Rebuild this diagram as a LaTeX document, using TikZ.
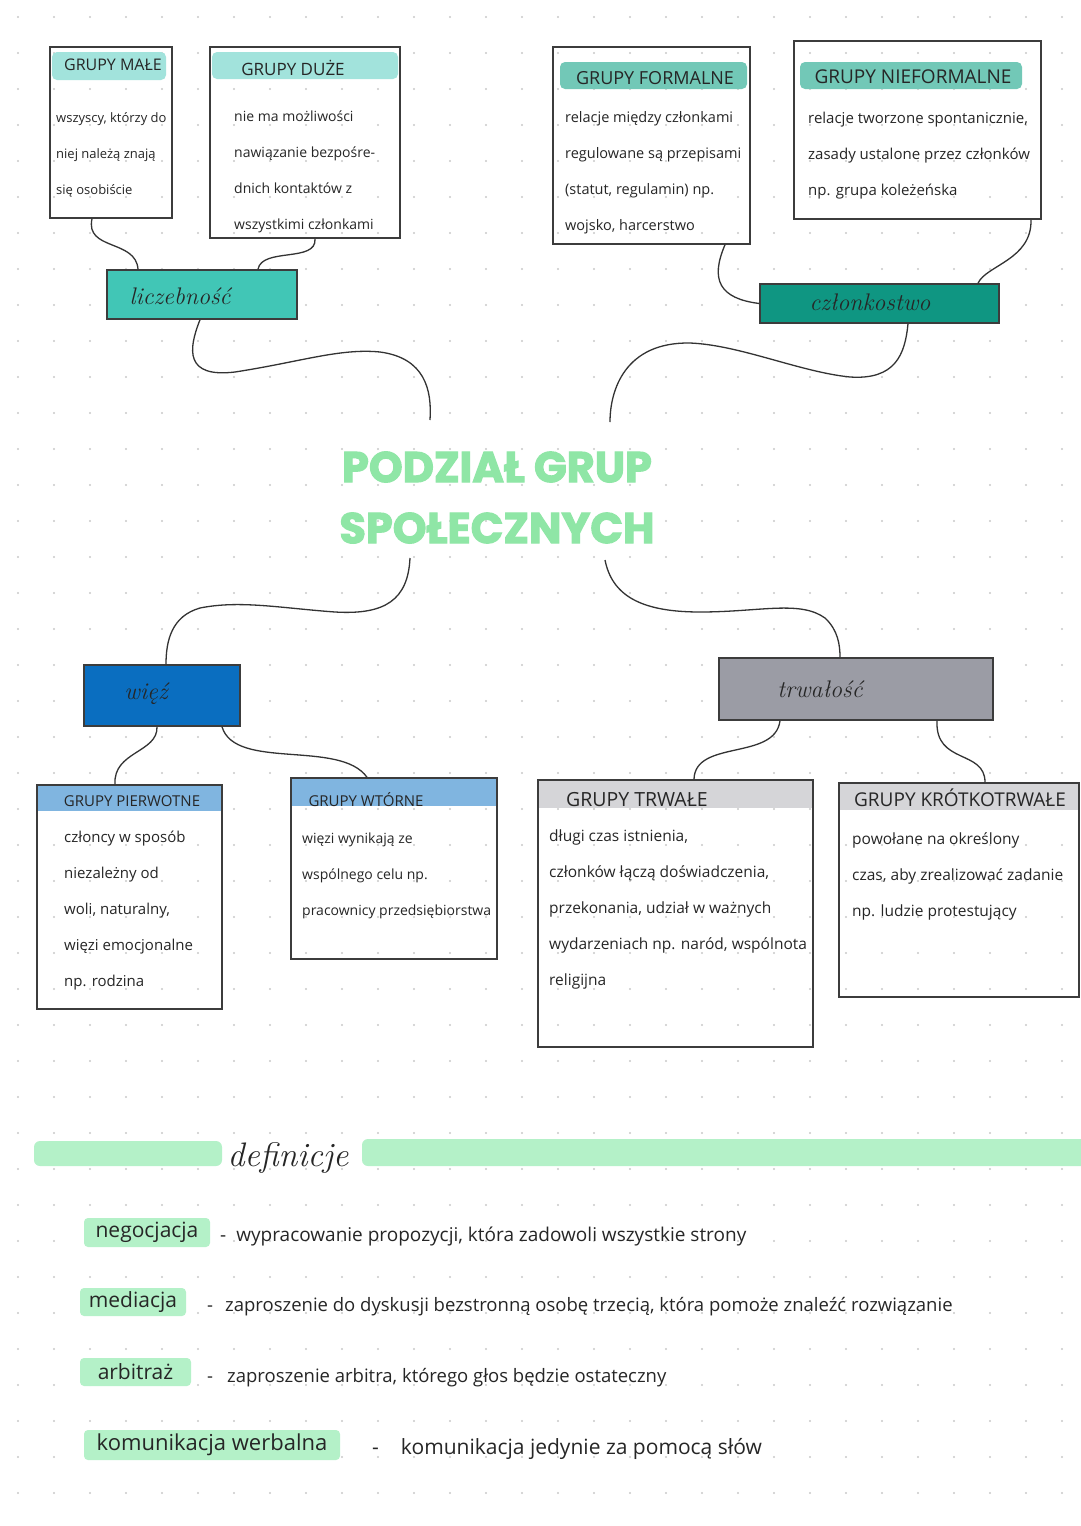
\documentclass[tikz,border=0pt]{standalone}
\usepackage{fontspec}
\newfontfamily\hand{Open Sans}
\newfontfamily\titlef[BoldFeatures={FakeBold=2.5}]{Poppins}
\usetikzlibrary{calc}
\definecolor{dotc}{HTML}{C9C9C9}
\definecolor{boxline}{HTML}{3C3C3C}
\definecolor{linec}{HTML}{333333}
\definecolor{hdrlight}{HTML}{A2E3DC}
\definecolor{hdrmid}{HTML}{72C8B7}
\definecolor{liczc}{HTML}{41C6B6}
\definecolor{czlonc}{HTML}{0F9682}
\definecolor{wiezc}{HTML}{0A6EC0}
\definecolor{trwc}{HTML}{9B9CA5}
\definecolor{hdrblue}{HTML}{80B5E0}
\definecolor{hdrgray}{HTML}{D5D5D8}
\definecolor{defgreen}{HTML}{B4F1C8}
\definecolor{titlegreen}{HTML}{8FE6A6}
\definecolor{ink}{HTML}{262626}
\tikzset{
  box/.style={draw=boxline, line width=1.5pt, inner sep=0pt},
  band/.style={inner sep=0pt},
  hdr/.style={inner sep=0pt, text=ink, font=\hand\fontsize{#1}{#1}\selectfont},
  body/.style={anchor=north west, inner sep=0pt, align=left, text=ink, font=\hand\fontsize{#1}{36}\selectfont},
  catlabel/.style={inner sep=0pt, text=ink, font=\itshape\fontsize{24}{26}\selectfont},
  link/.style={draw=linec, line width=1.3pt},
  term/.style={fill=defgreen, rounded corners=4pt, inner sep=0pt, text=ink, font=\hand\fontsize{#1}{#1}\selectfont},
  deftext/.style={anchor=west, inner sep=0pt, text=ink, font=\hand\fontsize{#1}{#1}\selectfont},
  titletext/.style={inner sep=0pt, text=titlegreen, font=\titlef\bfseries\fontsize{43}{46}\selectfont},
}
\begin{document}
\begin{tikzpicture}[x=1pt, y=-1pt]
\fill[white] (0,0) rectangle (1080,1526);
\useasboundingbox (0,0) rectangle (1080,1526);
% dot grid
\foreach \i in {0,...,29}{
  \foreach \j in {0,...,42}{
    \fill[dotc] (18+36*\i, 17+36*\j) circle (1.1);
  }
}
% ---------- top-left ----------
\node[band, fill=hdrlight, rounded corners=5pt, minimum width=114pt, minimum height=28pt] (maleband) at (109,66) {};
\node[band, fill=hdrlight, rounded corners=5pt, minimum width=186pt, minimum height=27pt] (duzeband) at (305,65.5) {};
\node[box, minimum width=122pt, minimum height=171pt] (male) at (111,132.5) {};
\node[box, minimum width=190pt, minimum height=191pt] (duze) at (305,142.5) {};
\node[hdr=16] (maleh) at (113,65) {GRUPY MAŁE};
\node[hdr=17] (duzeh) at (293,68) {GRUPY DUŻE};
\node[body=13] (maleb) at (56,112) {wszyscy, którzy do\\niej należą znają\\się osobiście};
\node[body=14] (duzeb) at (234,111) {nie ma możliwości\\nawiązanie bezpośre-\\dnich kontaktów z\\wszystkimi członkami};
\node[box, fill=liczc, minimum width=190pt, minimum height=49pt] (licz) at (202,294.5) {};
\node[catlabel] (liczl) at (180,296) {liczebność};
% ---------- top-right ----------
\node[band, fill=hdrmid, rounded corners=5pt, minimum width=187pt, minimum height=27pt] (formband) at (653.5,75.5) {};
\node[band, fill=hdrmid, rounded corners=5pt, minimum width=222pt, minimum height=27pt] (nieband) at (911,75.5) {};
\node[box, minimum width=197pt, minimum height=197pt] (form) at (651.5,145.5) {};
\node[box, minimum width=247pt, minimum height=178pt] (nief) at (917.5,130) {};
\node[hdr=18] (formh) at (655,78) {GRUPY FORMALNE};
\node[hdr=19] (niefh) at (913,77) {GRUPY NIEFORMALNE};
\node[body=14.5] (formb) at (565,111) {relacje między członkami\\regulowane są przepisami\\(statut, regulamin) np.\\wojsko, harcerstwo};
\node[body=15] (niefb) at (808,112) {relacje tworzone spontanicznie,\\zasady ustalone przez członków\\np. grupa koleżeńska};
\node[box, fill=czlonc, minimum width=239pt, minimum height=39pt] (czlon) at (879.5,303.5) {};
\node[catlabel] (czlonl) at (870,302) {członkostwo};
% ---------- title ----------
\node[titletext] (title1) at (497,467) {PODZIAŁ GRUP};
\node[titletext] (title2) at (497,528) {SPOŁECZNYCH};
\coordinate (tin1) at (430,420);
\coordinate (tin2) at (610,422);
\coordinate (tout1) at (410,558);
\coordinate (tout2) at (605,560);
% ---------- bottom-left ----------
\node[box, fill=wiezc, minimum width=156pt, minimum height=61pt] (wiez) at (162,695.5) {};
\node[catlabel] (wiezl) at (146,694) {więź};
\node[band, fill=hdrblue, minimum width=184pt, minimum height=25pt] (pierwband) at (129.5,798.5) {};
\node[band, fill=hdrblue, minimum width=205pt, minimum height=27pt] (wtorband) at (394,792.5) {};
\node[box, minimum width=185pt, minimum height=224pt] (pierw) at (129.5,897) {};
\node[box, minimum width=206pt, minimum height=181pt] (wtor) at (394,868.5) {};
\node[hdr=15] (pierwh) at (132,801) {GRUPY PIERWOTNE};
\node[hdr=15] (wtorh) at (366,800) {GRUPY WTÓRNE};
\node[body=15] (pierwb) at (64,831) {członcy w sposób\\niezależny od\\woli, naturalny,\\więzi emocjonalne\\np. rodzina};
\node[body=14] (wtorb) at (302,833) {więzi wynikają ze\\wspólnego celu np.\\pracownicy przedsiębiorstwa};
% ---------- bottom-right ----------
\node[box, fill=trwc, minimum width=274pt, minimum height=62pt] (trw) at (856,689) {};
\node[catlabel] (trwl) at (820,689) {trwałość};
\node[band, fill=hdrgray, minimum width=274pt, minimum height=27pt] (trwaleband) at (675.5,794.5) {};
\node[band, fill=hdrgray, minimum width=239pt, minimum height=26pt] (krotband) at (959,797) {};
\node[box, minimum width=275pt, minimum height=267pt] (trwale) at (675.5,913.5) {};
\node[box, minimum width=240pt, minimum height=214pt] (krot) at (959,890) {};
\node[hdr=19.5] (trwaleh) at (637,800) {GRUPY TRWAŁE};
\node[hdr=19] (kroth) at (960,798) {GRUPY KRÓTKOTRWAŁE};
\node[body=15.5] (trwaleb) at (549,830) {długi czas istnienia,\\członków łączą doświadczenia,\\przekonania, udział w ważnych\\wydarzeniach np. naród, wspólnota\\religijna};
\node[body=15.5] (krotb) at (852,832) {powołane na określony\\czas, aby zrealizować zadanie\\np. ludzie protestujący};
% ---------- connectors ----------
\draw[link] ([xshift=-19pt]male.south) .. controls +(-7,32) and +(-2,-30) .. ([xshift=-64pt]licz.north);
\draw[link] ([xshift=10pt]duze.south) .. controls +(2,24) and +(4,-22) .. ([xshift=56pt]licz.north);
\draw[link] ([xshift=-2pt]licz.south) .. controls (188,350) and (185,378) .. (235,372) .. controls (300,362) and (340,348) .. (380,352) .. controls (425,358) and (432,390) .. (tin1);
\draw[link] ([xshift=73.5pt]form.south) .. controls +(-15,35) and +(-40,-5) .. (czlon.west);
\draw[link] ([xshift=113.5pt]nief.south) .. controls +(1,40) and +(8,-18) .. ([xshift=98.5pt]czlon.north);
\draw[link] ([xshift=28.5pt]czlon.south) .. controls (905,355) and (895,380) .. (850,377) .. controls (800,372) and (740,345) .. (690,343) .. controls (625,342) and (610,390) .. (tin2);
\draw[link] (tout1) .. controls (408,600) and (385,615) .. (335,612) .. controls (280,608) and (240,600) .. (200,608) .. controls (172,616) and (166,640) .. ([xshift=4pt]wiez.north);
\draw[link] (tout2) .. controls (612,595) and (640,612) .. (700,612) .. controls (760,612) and (800,600) .. (825,618) .. controls (838,630) and (840,645) .. ([xshift=-16pt]trw.north);
\draw[link] ([xshift=-5pt]wiez.south) .. controls +(1,26) and +(-2,-33) .. ([xshift=-14.5pt]pierw.north);
\draw[link] ([xshift=60pt]wiez.south) .. controls +(13,44) and +(-27,-38) .. ([xshift=-27pt]wtor.north);
\draw[link] ([xshift=-76pt]trw.south) .. controls +(-5,40) and +(1,-40) .. ([xshift=18.5pt]trwale.north);
\draw[link] ([xshift=81pt]trw.south) .. controls +(-2,44) and +(0,-33) .. ([xshift=26pt]krot.north);
% ---------- definitions ----------
\node[band, fill=defgreen, rounded corners=6pt, minimum width=188pt, minimum height=25pt] (bar1) at (128,1153.5) {};
\node[band, fill=defgreen, rounded corners=6pt, minimum width=740pt, minimum height=27pt] (bar2) at (732,1152.5) {};
\node[inner sep=0pt, text=ink, font=\itshape\fontsize{34}{36}\selectfont] (defh) at (288,1158) {definicje};
\node[term=21, minimum width=126pt, minimum height=29pt] (neg) at (147,1232.5) {negocjacja};
\node[term=21, minimum width=106pt, minimum height=28pt] (med) at (133,1302) {mediacja};
\node[term=21, minimum width=111pt, minimum height=28pt] (arb) at (135.5,1372) {arbitraż};
\node[term=22, minimum width=256pt, minimum height=30pt] (kom) at (212,1445) {komunikacja werbalna};
\node[deftext=19] (negd) at (220,1236) {-\hspace{10pt}wypracowanie propozycji, która zadowoli wszystkie strony};
\node[deftext=18.5] (medd) at (207,1307) {-\hspace{12pt}zaproszenie do dyskusji bezstronną osobę trzecią, która pomoże znaleźć rozwiązanie};
\node[deftext=18.5] (arbd) at (207,1378) {-\hspace{14pt}zaproszenie arbitra, którego głos będzie ostateczny};
\node[deftext=21] (komd) at (372,1449) {-\hspace{22pt}komunikacja jedynie za pomocą słów};
\end{tikzpicture}
\end{document}
